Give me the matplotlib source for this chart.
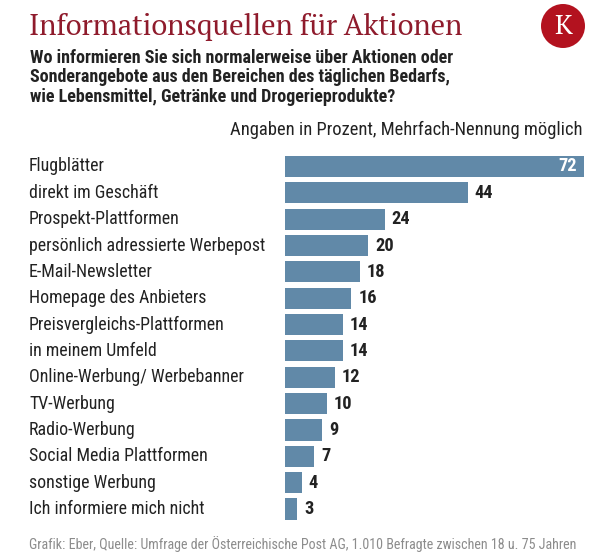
import matplotlib
matplotlib.use("Agg")
from matplotlib import pyplot as plt
from matplotlib.patches import Ellipse
from matplotlib.transforms import blended_transform_factory

# data
categories = ["Flugblätter", "direkt im Geschäft", "Prospekt-Plattformen",
              "persönlich adressierte Werbepost", "E-Mail-Newsletter",
              "Homepage des Anbieters", "Preisvergleichs-Plattformen",
              "in meinem Umfeld", "Online-Werbung/ Werbebanner", "TV-Werbung",
              "Radio-Werbung", "Social Media Plattformen", "sonstige Werbung",
              "Ich informiere mich nicht"]
values = [72, 44, 24, 20, 18, 16, 14, 14, 12, 10, 9, 7, 4, 3]

title = "Informationsquellen für Aktionen"
subtitle = ["Wo informieren Sie sich normalerweise über Aktionen oder",
            "Sonderangebote aus den Bereichen des täglichen Bedarfs,",
            "wie Lebensmittel, Getränke und Drogerieprodukte?"]
note = "Angaben in Prozent, Mehrfach-Nennung möglich"
source = ("Grafik: Eber, Quelle: Umfrage der Österreichische Post AG, "
          "1.010 Befragte zwischen 18 u. 75 Jahren")

W, H = 616, 560
bar_col = "#6189a8"
red = "#8f1b2c"
txt = "#222222"
cond = "Roboto Condensed"

fig = plt.figure(figsize=(W / 100, H / 100), dpi=100)


def px(x, y):
    # pixel position from top-left -> figure fraction
    return x / W, 1 - y / H


# header
fig.text(*px(29, 35), title, fontsize=20.8, family="PT Serif", color=red, va="baseline")
for i, line in enumerate(subtitle):
    fig.text(*px(30, 63 + i * 19.5), line, fontsize=13.0, family=cond,
             weight="bold", color=txt, va="baseline")
fig.text(*px(582, 135), note, fontsize=13.3, family=cond, color=txt,
         ha="right", va="baseline")

# logo
cx, cy = px(563, 26)
fig.add_artist(Ellipse((cx, cy), 44 / W, 44 / H, transform=fig.transFigure,
                       color="#b3121f", lw=0))
fig.text(cx, cy, "K", fontsize=20, family="PT Serif", color="white",
         ha="center", va="center")

# bars
top, bottom = 153.3, 522.2
ax = fig.add_axes([285 / W, 1 - bottom / H, (584 - 285) / W, (bottom - top) / H])
pos = list(range(len(categories)))
ax.barh(pos, values, height=0.8, color=bar_col)
ax.set_xlim(0, 72)
ax.set_ylim(len(categories) - 0.5, -0.5)
ax.axis("off")

trans = blended_transform_factory(fig.transFigure, ax.transData)
for p, cat, v in zip(pos, categories, values):
    ax.text(29 / W, p, cat, transform=trans, fontsize=12.9, family=cond,
            color=txt, va="center")
    if v == max(values):
        ax.annotate(str(v), (v, p), xytext=(-5, 0), textcoords="offset points",
                    ha="right", va="center", fontsize=13.2, family=cond,
                    weight="bold", color="white")
    else:
        ax.annotate(str(v), (v, p), xytext=(5, 0), textcoords="offset points",
                    ha="left", va="center", fontsize=13.2, family=cond,
                    weight="bold", color=txt)

fig.text(*px(29, 549), source, fontsize=10.1, family=cond, color="#8c8c8c",
         va="baseline")

fig.savefig("out.png", dpi=100)
